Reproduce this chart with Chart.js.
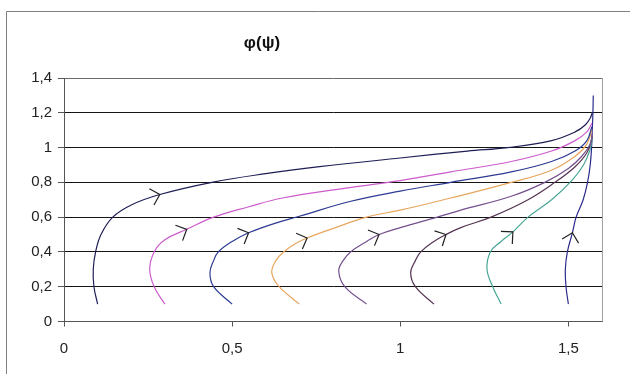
<!DOCTYPE html>
<html>
<head>
<meta charset="utf-8">
<script src="https://cdn.jsdelivr.net/npm/chart.js@4/dist/chart.umd.min.js"></script>
<style>
  html, body { margin: 0; padding: 0; background: #fff; }
  canvas { display: block; }
</style>
</head>
<body>
<canvas id="c" width="630" height="374"></canvas>
<script>
// Phase trajectories φ(ψ): each curve starts at φ = 0.1 and runs up to ψ = π/2.
const titleText = 'φ(ψ)';

const yTickValues = [0, 0.2, 0.4, 0.6, 0.8, 1, 1.2, 1.4];
const yTickLabels = ['0', '0,2', '0,4', '0,6', '0,8', '1', '1,2', '1,4'];
const xTickValues = [0, 0.5, 1, 1.5];
const xTickLabels = ['0', '0,5', '1', '1,5'];

const curve1Psi = [0.100, 0.089, 0.087, 0.094, 0.110, 0.145, 0.200, 0.285, 0.440, 0.600, 0.760, 1.000, 1.200, 1.320, 1.450, 1.520, 1.550, 1.565, 1.571];
const curve1Phi = [0.10, 0.20, 0.30, 0.40, 0.50, 0.60, 0.67, 0.73, 0.80, 0.85, 0.89, 0.94, 0.98, 1.00, 1.04, 1.09, 1.13, 1.17, 1.20];

const curve2Psi = [0.300, 0.268, 0.255, 0.268, 0.300, 0.365, 0.445, 0.550, 0.650, 0.850, 1.000, 1.150, 1.330, 1.450, 1.520, 1.555, 1.570];
const curve2Phi = [0.10, 0.20, 0.30, 0.40, 0.47, 0.53, 0.60, 0.66, 0.71, 0.77, 0.81, 0.86, 0.92, 0.98, 1.04, 1.09, 1.14];

const curve3Psi = [0.500, 0.445, 0.434, 0.445, 0.459, 0.500, 0.549, 0.620, 0.700, 0.850, 1.000, 1.150, 1.330, 1.450, 1.520, 1.555, 1.570];
const curve3Phi = [0.10, 0.20, 0.28, 0.35, 0.40, 0.46, 0.51, 0.56, 0.605, 0.69, 0.75, 0.80, 0.86, 0.92, 0.98, 1.04, 1.12];

const curve4Psi = [0.700, 0.640, 0.618, 0.630, 0.653, 0.690, 0.723, 0.793, 0.900, 1.000, 1.150, 1.330, 1.450, 1.520, 1.555, 1.570];
const curve4Phi = [0.10, 0.20, 0.28, 0.35, 0.40, 0.45, 0.48, 0.53, 0.60, 0.64, 0.71, 0.80, 0.87, 0.95, 1.02, 1.10];

const curve5Psi = [0.900, 0.835, 0.817, 0.830, 0.852, 0.900, 0.937, 1.000, 1.110, 1.180, 1.330, 1.430, 1.500, 1.540, 1.565, 1.571];
const curve5Phi = [0.10, 0.20, 0.29, 0.35, 0.40, 0.46, 0.50, 0.54, 0.60, 0.64, 0.72, 0.80, 0.88, 0.95, 1.02, 1.08];

const curve6Psi = [1.100, 1.045, 1.031, 1.045, 1.061, 1.100, 1.136, 1.180, 1.270, 1.380, 1.460, 1.520, 1.555, 1.571];
const curve6Phi = [0.10, 0.20, 0.28, 0.35, 0.40, 0.46, 0.50, 0.54, 0.60, 0.70, 0.80, 0.89, 0.97, 1.06];

const curve7Psi = [1.300, 1.275, 1.258, 1.268, 1.300, 1.335, 1.380, 1.450, 1.510, 1.545, 1.563, 1.571];
const curve7Phi = [0.10, 0.20, 0.30, 0.40, 0.46, 0.515, 0.60, 0.70, 0.81, 0.90, 0.98, 1.05];

const curve8Psi = [1.500, 1.493, 1.491, 1.497, 1.512, 1.523, 1.544, 1.557, 1.565, 1.569, 1.571, 1.573, 1.574];
const curve8Phi = [0.10, 0.20, 0.30, 0.40, 0.51, 0.60, 0.70, 0.80, 0.90, 1.00, 1.10, 1.20, 1.30];

// Direction arrows, one per trajectory
const arrowPsi = [0.285, 0.365, 0.549, 0.723, 0.937, 1.136, 1.335, 1.512];
const arrowPhi = [0.73, 0.53, 0.51, 0.48, 0.50, 0.50, 0.515, 0.51];

const curveColors = ['#1e1e55', '#cc5ccc', '#2c3a92', '#e8a65e', '#74508e', '#553452', '#48a696', '#2a2a8c'];

const curves = [
  [curve1Psi, curve1Phi], [curve2Psi, curve2Phi], [curve3Psi, curve3Phi], [curve4Psi, curve4Phi],
  [curve5Psi, curve5Phi], [curve6Psi, curve6Phi], [curve7Psi, curve7Phi], [curve8Psi, curve8Phi]
];

const datasets = curves.map(([xs, ys], i) => ({
  data: xs.map((x, k) => ({ x: x, y: ys[k] })),
  borderColor: curveColors[i],
  borderWidth: 1.2,
  pointRadius: 0,
  showLine: true,
  fill: false,
  tension: 0.4
}));

const FONT = '"Liberation Sans", Arial, sans-serif';

const framePlugin = {
  id: 'frame',
  beforeDraw(chart) {
    const ctx = chart.ctx;
    ctx.save();
    ctx.fillStyle = '#fff';
    ctx.fillRect(0, 0, chart.width, chart.height);
    ctx.strokeStyle = '#808080';
    ctx.lineWidth = 1;
    ctx.beginPath();
    ctx.moveTo(6.5, chart.height + 2);
    ctx.lineTo(6.5, 11.5);
    ctx.lineTo(chart.width + 2, 11.5);
    ctx.stroke();
    ctx.restore();
  },
  afterDraw(chart) {
    const ctx = chart.ctx;
    const a = chart.chartArea;
    ctx.save();
    // right edge of the plot area
    ctx.strokeStyle = '#a0a0a0';
    ctx.lineWidth = 1;
    ctx.beginPath();
    ctx.moveTo(Math.round(a.right) + 0.5, a.top);
    ctx.lineTo(Math.round(a.right) + 0.5, a.bottom);
    ctx.stroke();
    // title
    ctx.fillStyle = '#111';
    ctx.font = 'bold 17px ' + FONT;
    ctx.textAlign = 'center';
    ctx.textBaseline = 'middle';
    ctx.fillText(titleText, 262, 43);
    ctx.restore();
  }
};

const arrowPlugin = {
  id: 'arrows',
  afterDatasetsDraw(chart) {
    const ctx = chart.ctx;
    const xs = chart.scales.x, ys = chart.scales.y;
    ctx.save();
    ctx.strokeStyle = '#222';
    ctx.lineWidth = 1.2;
    arrowPsi.forEach((ax, i) => {
      const tx = xs.getPixelForValue(ax);
      const ty = ys.getPixelForValue(arrowPhi[i]);
      const pts = curves[i][0].map((x, k) => [xs.getPixelForValue(x), ys.getPixelForValue(curves[i][1][k])]);
      // nearest sample gives the local direction of travel
      let best = 0, bd = Infinity;
      pts.forEach((p, k) => { const d = (p[0] - tx) ** 2 + (p[1] - ty) ** 2; if (d < bd) { bd = d; best = k; } });
      const k0 = Math.max(0, best - 1), k1 = Math.min(pts.length - 1, best + 1);
      const ang = Math.atan2(pts[k1][1] - pts[k0][1], pts[k1][0] - pts[k0][0]);
      const back = ang + Math.PI;
      const len = 12, spread = Math.PI / 4;
      ctx.beginPath();
      ctx.moveTo(tx + len * Math.cos(back - spread), ty + len * Math.sin(back - spread));
      ctx.lineTo(tx, ty);
      ctx.lineTo(tx + len * Math.cos(back + spread), ty + len * Math.sin(back + spread));
      ctx.stroke();
    });
    ctx.restore();
  }
};

new Chart(document.getElementById('c'), {
  type: 'scatter',
  data: { datasets },
  options: {
    responsive: false,
    animation: false,
    events: [],
    layout: { padding: { left: 6, top: 78, right: 28, bottom: 0 } },
    plugins: { legend: { display: false }, tooltip: { enabled: false }, title: { display: false } },
    scales: {
      x: {
        type: 'linear', min: 0, max: 1.6,
        afterBuildTicks: s => { s.ticks = xTickValues.map(v => ({ value: v })); },
        afterFit: s => { s.height = 52.5; },
        ticks: {
          callback: (v, i) => xTickLabels[i],
          font: { family: FONT, size: 15 },
          color: '#222',
          padding: 13,
          maxRotation: 0
        },
        grid: { drawOnChartArea: false, drawTicks: true, tickLength: 5, tickColor: '#555', color: '#555' },
        border: { color: '#555', width: 1 }
      },
      y: {
        type: 'linear', min: 0, max: 1.4,
        afterBuildTicks: s => { s.ticks = yTickValues.map(v => ({ value: v })); },
        afterFit: s => { s.width = 58; },
        ticks: {
          callback: (v, i) => yTickLabels[i],
          font: { family: FONT, size: 15 },
          color: '#222',
          padding: 6
        },
        grid: {
          color: c => (c.tick && (c.tick.value === 0 || c.tick.value === 1.4)) ? '#6a6a6a' : '#141414',
          lineWidth: 1,
          tickLength: 6,
          tickColor: '#555'
        },
        border: { color: '#555', width: 1 }
      }
    }
  },
  plugins: [framePlugin, arrowPlugin]
});
</script>
</body>
</html>
